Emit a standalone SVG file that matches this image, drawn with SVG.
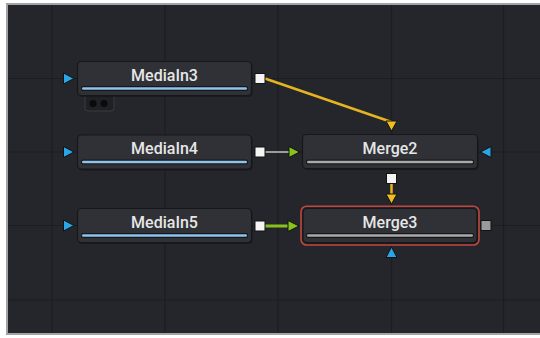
<svg xmlns="http://www.w3.org/2000/svg" width="540" height="338" viewBox="0 0 540 338">
<style>
.grid{stroke:#1c1d21;stroke-width:1.2}
.node{fill:#303136;stroke:#16171a;stroke-width:1.2}
.shadow{fill:#141518;opacity:0.7}
.label{font-family:Roboto,"Noto Sans",sans-serif;font-weight:500;font-size:16px;fill:#e6e6e6;text-anchor:middle}
.trough{fill:#16171a}
.blue{fill:#8ec3ea}
.gray{fill:#a9a9a9}
.out{fill:#f4f4f4;stroke:#111214;stroke-width:1}
.inb{fill:#29a6e6;stroke:#111214;stroke-width:1}
.iny{fill:#f0bd1e;stroke:#111214;stroke-width:1}
.ing{fill:#86c31c;stroke:#111214;stroke-width:1}
</style>
<rect x="0" y="0" width="540" height="338" fill="#ffffff"/>
<rect x="6" y="3" width="540" height="332" fill="#a3a3a3"/>
<rect x="8" y="5" width="540" height="328" fill="#25262b"/>
<g id="grid">
<line class="grid" x1="52" y1="5" x2="52" y2="333"/>
<line class="grid" x1="165" y1="5" x2="165" y2="333"/>
<line class="grid" x1="278" y1="5" x2="278" y2="333"/>
<line class="grid" x1="391.5" y1="5" x2="391.5" y2="333"/>
<line class="grid" x1="503.5" y1="5" x2="503.5" y2="333"/>
<line class="grid" x1="8" y1="78.5" x2="540" y2="78.5"/>
<line class="grid" x1="8" y1="152" x2="540" y2="152"/>
<line class="grid" x1="8" y1="225.5" x2="540" y2="225.5"/>
<line class="grid" x1="8" y1="300" x2="540" y2="300"/>
</g>
<g id="connectors" fill="none" stroke-linecap="butt">
<line x1="265" y1="78.5" x2="391.5" y2="122" stroke="#e5b41f" stroke-width="2.5"/>
<line x1="391.5" y1="183.5" x2="391.5" y2="195" stroke="#e5b41f" stroke-width="2.5"/>
<line x1="265" y1="152" x2="289" y2="152" stroke="#9c9c9c" stroke-width="2"/>
<line x1="265" y1="226" x2="288" y2="226" stroke="#86c01c" stroke-width="3"/>
</g>
<g id="MediaIn3">
<rect x="85" y="94" width="29" height="17" rx="3" fill="#202125" stroke="#3a3b40" stroke-width="1"/>
<circle cx="93" cy="103.5" r="3.5" fill="#0b0b0d"/>
<circle cx="104" cy="103.5" r="3.5" fill="#0b0b0d"/>
<rect class="shadow" x="78.5" y="63" width="174" height="34" rx="4"/>
<rect class="node" x="77.5" y="61.5" width="174" height="34" rx="4"/>
<text class="label" x="164.5" y="80.7">MediaIn3</text>
<rect class="trough" x="81" y="86" width="167" height="5" rx="2"/>
<rect class="blue" x="82" y="87.2" width="165" height="2.6" rx="1.3"/>
<polygon class="inb" points="63.5,73 74,78.5 63.5,84"/>
<rect class="out" x="255" y="73.5" width="10" height="10"/>
</g>
<g id="MediaIn4">
<rect class="shadow" x="78.5" y="136.5" width="174" height="34" rx="4"/>
<rect class="node" x="77.5" y="135" width="174" height="34" rx="4"/>
<text class="label" x="164.5" y="154.2">MediaIn4</text>
<rect class="trough" x="81" y="159.5" width="167" height="5" rx="2"/>
<rect class="blue" x="82" y="160.7" width="165" height="2.6" rx="1.3"/>
<polygon class="inb" points="63.5,146.5 74,152 63.5,157.5"/>
<rect class="out" x="255" y="147" width="10" height="10"/>
</g>
<g id="MediaIn5">
<rect class="shadow" x="78.5" y="210" width="174" height="34" rx="4"/>
<rect class="node" x="77.5" y="208.5" width="174" height="34" rx="4"/>
<text class="label" x="164.5" y="227.7">MediaIn5</text>
<rect class="trough" x="81" y="233" width="167" height="5" rx="2"/>
<rect class="blue" x="82" y="234.2" width="165" height="2.6" rx="1.3"/>
<polygon class="inb" points="63.5,220 74,225.5 63.5,231"/>
<rect class="out" x="255" y="221" width="10" height="10"/>
</g>
<g id="Merge2">
<rect class="shadow" x="303.5" y="136" width="175" height="34" rx="4"/>
<rect class="node" x="302.5" y="134.5" width="175" height="34" rx="4"/>
<text class="label" x="390" y="153.7">Merge2</text>
<rect class="trough" x="306" y="159.5" width="168" height="5" rx="2"/>
<rect class="gray" x="307" y="160.7" width="166" height="2.6" rx="1.3"/>
<polygon class="iny" points="386,121 397,121 391.5,131"/>
<polygon class="ing" points="289,146.5 299.5,152 289,157.5"/>
<polygon class="inb" points="491,146.5 480.5,152 491,157.5"/>
<rect class="out" x="386.5" y="173.5" width="10" height="10"/>
</g>
<g id="Merge3">
<rect class="shadow" x="304" y="210" width="174" height="34" rx="4"/>
<rect class="node" x="303" y="208.5" width="174" height="34" rx="4"/>
<rect x="301" y="206.3" width="178" height="38.7" rx="5.5" fill="none" stroke="#c2463d" stroke-width="1.6"/>
<text class="label" x="390" y="227.7">Merge3</text>
<rect class="trough" x="306" y="233" width="168" height="5" rx="2"/>
<rect class="gray" x="307" y="234.2" width="166" height="2.6" rx="1.3"/>
<polygon class="iny" points="386,194 397,194 391.5,204"/>
<polygon class="ing" points="288,220.5 299,226 288,231.5"/>
<polygon class="inb" points="386,257.5 397,257.5 391.5,247"/>
<rect x="481" y="220.5" width="10" height="10" fill="#9a9a9a" stroke="#111214" stroke-width="1"/>
</g>
</svg>
